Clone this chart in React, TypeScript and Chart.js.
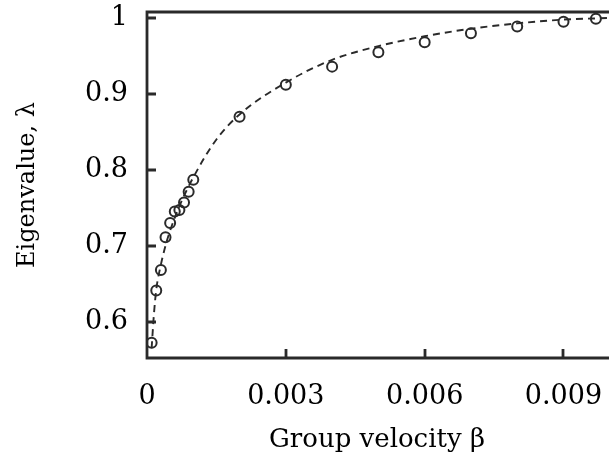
import React, { useEffect, useRef } from "react";
import { Chart, registerables } from "chart.js";

Chart.register(...registerables);

// Measured points (group velocity β, eigenvalue λ)
const pointBeta = [0.0001, 0.0002, 0.0003, 0.0004, 0.0005, 0.0006, 0.0007, 0.0008, 0.0009, 0.001, 0.002, 0.003, 0.004, 0.005, 0.006, 0.007, 0.008, 0.009, 0.0097];
const pointLambda = [0.572, 0.641, 0.668, 0.711, 0.73, 0.745, 0.747, 0.757, 0.771, 0.787, 0.87, 0.912, 0.936, 0.955, 0.968, 0.98, 0.989, 0.995, 0.999];

// Dashed fit curve
const curveBeta = [0.0001, 0.00015, 0.0002, 0.0003, 0.0004, 0.0005, 0.0007, 0.001, 0.0015, 0.002, 0.003, 0.004, 0.005, 0.006, 0.007, 0.008, 0.009, 0.00994];
const curveLambda = [0.565, 0.61, 0.642, 0.675, 0.7, 0.72, 0.752, 0.79, 0.84, 0.873, 0.915, 0.945, 0.963, 0.976, 0.986, 0.993, 0.998, 1.0];

const xTicks = [0, 0.003, 0.006, 0.009];
const xTickLabels = ["0", "0.003", "0.006", "0.009"];
const yTicks = [0.6, 0.7, 0.8, 0.9, 1];
const yTickLabels = ["0.6", "0.7", "0.8", "0.9", "1"];

const xTitle = "Group velocity β";
const yTitle = "Eigenvalue, λ";

const AXIS = "#2a2a2a";
const INK = "#000000";

const frame = {
  id: "frame",
  afterDraw(chart: any) {
    const { ctx, chartArea, scales } = chart;
    const { left, right, top, bottom } = chartArea;
    ctx.save();
    ctx.strokeStyle = AXIS;
    ctx.lineWidth = 2.8;
    ctx.lineCap = "butt";
    ctx.beginPath();
    ctx.moveTo(right + 2, top);
    ctx.lineTo(left, top);
    ctx.lineTo(left, bottom);
    ctx.lineTo(right + 2, bottom);
    ctx.stroke();
    // inward ticks
    ctx.beginPath();
    for (const v of yTicks) {
      const y = Math.round(scales.y.getPixelForValue(v));
      ctx.moveTo(left, y);
      ctx.lineTo(left + 9, y);
    }
    for (const v of xTicks) {
      if (v === 0) continue;
      const x = Math.round(scales.x.getPixelForValue(v));
      ctx.moveTo(x, bottom);
      ctx.lineTo(x, bottom - 9);
    }
    ctx.stroke();
    ctx.restore();
  },
};

export default function App() {
  const ref = useRef<HTMLCanvasElement | null>(null);

  useEffect(() => {
    if (!ref.current) return;
    const chart = new Chart(ref.current, {
      type: "scatter",
      data: {
        datasets: [
          {
            label: "fit",
            data: curveBeta.map((b, i) => ({ x: b, y: curveLambda[i] })),
            showLine: true,
            borderColor: AXIS,
            borderWidth: 1.9,
            borderDash: [7, 5],
            pointRadius: 0,
            cubicInterpolationMode: "monotone",
            fill: false,
          },
          {
            label: "data",
            data: pointBeta.map((b, i) => ({ x: b, y: pointLambda[i] })),
            showLine: false,
            pointStyle: "circle",
            pointRadius: 5,
            pointBorderWidth: 2,
            borderColor: AXIS,
            pointBorderColor: AXIS,
            pointBackgroundColor: "rgba(255,255,255,0)",
            backgroundColor: "rgba(255,255,255,0)",
          },
        ],
      },
      options: {
        responsive: false,
        animation: false,
        devicePixelRatio: 1,
        layout: { padding: { top: 12, right: 0, left: 0, bottom: 0 } },
        plugins: {
          legend: { display: false },
          tooltip: { enabled: false },
        },
        scales: {
          x: {
            type: "linear",
            min: 0,
            max: 0.00994,
            grid: { display: false, drawTicks: false },
            border: { display: false },
            afterBuildTicks: (s: any) => {
              s.ticks = xTicks.map((v) => ({ value: v }));
            },
            afterFit: (s: any) => {
              s.height = 100;
              s.paddingLeft = 0;
              s.paddingRight = 0;
            },
            ticks: {
              autoSkip: false,
              maxRotation: 0,
              minRotation: 0,
              padding: 23,
              color: INK,
              font: { family: "DejaVu Serif", size: 27, lineHeight: 1.2 },
              callback: (v: any) => {
                const i = xTicks.indexOf(Number(v));
                return i >= 0 ? xTickLabels[i] : "";
              },
            },
            title: {
              display: true,
              text: xTitle,
              color: INK,
              font: { family: "DejaVu Serif", size: 26, lineHeight: 1.2 },
              padding: { top: 0, bottom: 2 },
            },
          },
          y: {
            type: "linear",
            min: 0.552,
            max: 1.008,
            grid: { display: false, drawTicks: false },
            border: { display: false },
            afterBuildTicks: (s: any) => {
              s.ticks = yTicks.map((v) => ({ value: v }));
            },
            afterFit: (s: any) => {
              s.width = 147;
              s.paddingTop = 0;
              s.paddingBottom = 0;
            },
            ticks: {
              autoSkip: false,
              padding: 19,
              color: INK,
              font: { family: "DejaVu Serif", size: 27, lineHeight: 1.2 },
              callback: (v: any) => {
                const i = yTicks.findIndex((t) => Math.abs(t - Number(v)) < 1e-9);
                return i >= 0 ? yTickLabels[i] : "";
              },
            },
            title: {
              display: true,
              text: yTitle,
              color: INK,
              font: { family: "DejaVu Serif", size: 24, lineHeight: 1.2 },
              padding: { top: 13, bottom: 0 },
            },
          },
        },
      },
      plugins: [frame],
    } as any);
    return () => chart.destroy();
  }, []);

  return (
    <div style={{ position: "fixed", left: 0, top: 0, width: 614, height: 458, background: "#fff" }}>
      <canvas ref={ref} width={614} height={458} style={{ display: "block" }} />
    </div>
  );
}
